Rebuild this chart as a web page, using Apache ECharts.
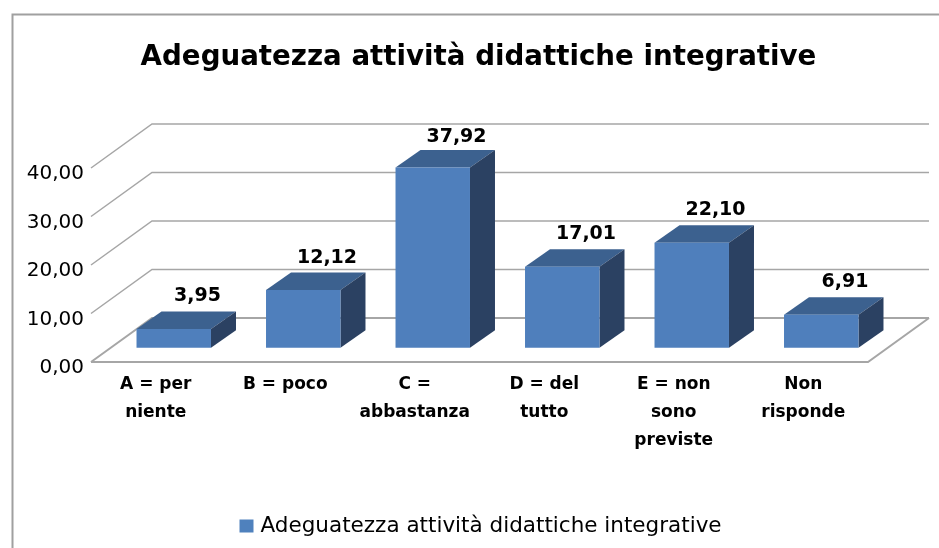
<!DOCTYPE html>
<html><head><meta charset="utf-8">
<style>html,body{margin:0;padding:0;background:#fff}#c{width:939px;height:548px}</style>
<script src="https://cdn.jsdelivr.net/npm/echarts@6/dist/echarts.min.js"></script>
</head><body><div id="c"></div>
<script>
const titleText = 'Adeguatezza attività didattiche integrative';
const seriesName = 'Adeguatezza attività didattiche integrative';
const categories = ['A = per\nniente','B = poco','C =\nabbastanza','D = del\ntutto','E = non\nsono\npreviste','Non\nrisponde'];
const values = [3.95,12.12,37.92,17.01,22.10,6.91];
const yTicks = [0,10,20,30,40];

const comma = v => v.toFixed(2).replace('.',',');
const WALL_DX = 61, WALL_DY = -44, BAR_RATIO = 0.575, BAR_DX = 25, BAR_DY = -17.5;
const FLOOR_DX = 18, FLOOR_DY = -14.3, BAR_SCALE = 0.98;
const lineCol = '#a6a6a6', FF = '"DejaVu Sans"';

const chart = echarts.init(document.getElementById('c'), null, {renderer:'canvas'});
chart.setOption({
  animation:false,
  backgroundColor:'#fff',
  title:{text:titleText,top:44,padding:0,left:478.5,textAlign:'center',
    textStyle:{fontFamily:FF,fontWeight:'bold',fontSize:27.7,color:'#000'}},
  legend:{data:[seriesName],left:239.5,top:515,padding:0,itemWidth:14,itemHeight:13,itemGap:7,icon:'rect',
    textStyle:{fontFamily:FF,fontSize:21.5,color:'#000',padding:[0,0,0,2]}},
  grid:{left:91,right:71,top:168,bottom:186},
  xAxis:{type:'category',data:categories,axisLine:{show:false},axisTick:{show:false},
    axisLabel:{interval:0,margin:9,fontFamily:FF,fontWeight:'bold',fontSize:17,color:'#000',lineHeight:28}},
  yAxis:{type:'value',min:0,max:40,interval:10,splitLine:{show:false},axisLine:{show:false},axisTick:{show:false},
    axisLabel:{formatter:comma,margin:7,fontFamily:FF,fontSize:20,color:'#000',verticalAlign:'top',lineHeight:12}},
  series:[
    {type:'custom',name:'walls',silent:true,clip:false,z:1,data:yTicks,
     renderItem(p,api){
      const v=api.value(0), cs=p.coordSys, y=api.coord([0,v])[1];
      const l=cs.x, r=cs.x+cs.width;
      const st={stroke:lineCol,lineWidth:v===0?2:1.5,fill:null};
      const kids=[
        {type:'polyline',shape:{points:[[l,y],[l+WALL_DX,y+WALL_DY],[r+WALL_DX,y+WALL_DY]]},style:st}];
      if(v===0) kids.push(
        {type:'polyline',shape:{points:[[l,y],[r,y],[r+WALL_DX,y+WALL_DY]]},style:st});
      return {type:'group',children:kids};
     },encode:{y:0}},
    {type:'custom',name:seriesName,clip:false,z:3,
     itemStyle:{color:'#4F81BD'},
     data:values.map((v,i)=>[i,v]),
     renderItem(p,api){
      const i=api.value(0), v=api.value(1), cs=p.coordSys;
      const top=api.coord([i,v]), base=api.coord([i,0]), band=api.size([1,0])[0];
      const w=band*BAR_RATIO, x0=top[0]-w/2+FLOOR_DX, x1=x0+w;
      const y0=base[1]+FLOOR_DY, y1=y0-(base[1]-top[1])*BAR_SCALE;
      const dx=BAR_DX, dy=BAR_DY;
      return {type:'group',children:[
        {type:'polygon',shape:{points:[[x0,y1],[x1,y1],[x1+dx,y1+dy],[x0+dx,y1+dy]]},style:{fill:'#3C618F'}},
        {type:'polygon',shape:{points:[[x1,y0],[x1+dx,y0+dy],[x1+dx,y1+dy],[x1,y1]]},style:{fill:'#2B4162'}},
        {type:'rect',shape:{x:x0,y:y1,width:w,height:y0-y1},style:{fill:'#4F7FBC'}},
        {type:'text',style:{text:comma(v),x:(x0+x1)/2+dx*0.95,y:Math.max(y1+dy-15,cs.y-31),align:'center',verticalAlign:'middle',
          fontFamily:FF,fontWeight:'bold',fontSize:19,fill:'#000'}}
      ]};
     },encode:{x:0,y:1}}
  ],
  graphic:[{type:'polyline',silent:true,z:0,shape:{points:[[12.5,560],[12.5,14.5],[950,14.5]]},
    style:{stroke:'#a0a0a0',lineWidth:2,fill:null}}]
});
</script></body></html>
